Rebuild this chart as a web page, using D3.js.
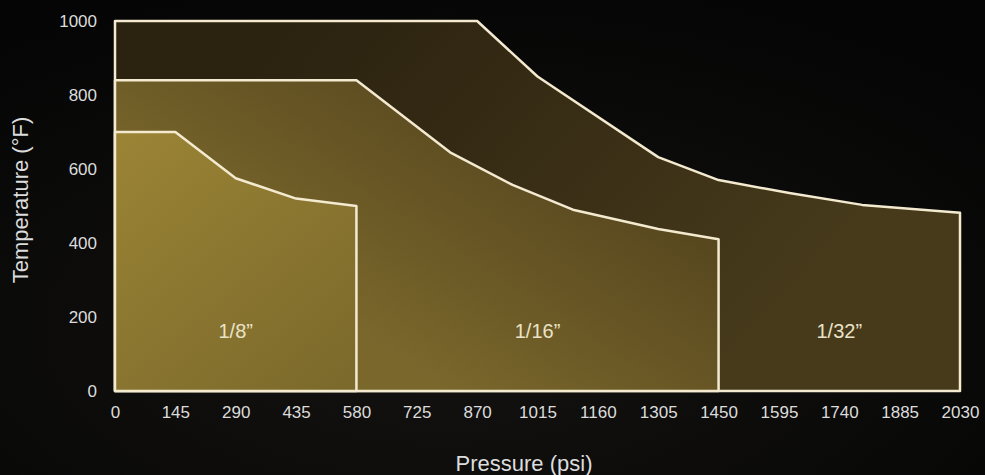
<!DOCTYPE html>
<html>
<head>
<meta charset="utf-8">
<script src="https://cdn.jsdelivr.net/npm/d3@7"></script>
<style>
  html, body { margin: 0; padding: 0; background: #060606; }
  svg { display: block; }
</style>
</head>
<body>
<script>
// pressure ticks (psi) and temperature ticks (°F)
const pressureTicks = [0, 145, 290, 435, 580, 725, 870, 1015, 1160, 1305, 1450, 1595, 1740, 1885, 2030]
const tempTicks = [0, 200, 400, 600, 800, 1000]

// envelope for each tube size: pressure vs max temperature
const eighthP = [0, 145, 290, 435, 580]
const eighthT = [700, 700, 575, 520, 500]

const sixteenthP = [0, 580, 805, 955, 1100, 1305, 1450]
const sixteenthT = [840, 840, 645, 557, 490, 438, 410]

const thirtysecondP = [0, 870, 1015, 1305, 1450, 1620, 1795, 2030]
const thirtysecondT = [1000, 1000, 850, 632, 570, 535, 503, 482]

const sizeLabels = ["1/32\u201d", "1/16\u201d", "1/8\u201d"]

const width = 985, height = 475
const font = 'Liberation Sans, Arial, sans-serif'
const svg = d3.select('body').append('svg')
  .attr('width', width)
  .attr('height', height)

const defs = svg.append('defs')

// background vignette
const bg = defs.append('radialGradient').attr('id', 'bg')
  .attr('cx', '45%').attr('cy', '70%').attr('r', '75%')
bg.append('stop').attr('offset', '0%').attr('stop-color', '#141311')
bg.append('stop').attr('offset', '100%').attr('stop-color', '#050505')
svg.append('rect').attr('width', width).attr('height', height).attr('fill', 'url(#bg)')

const x = d3.scaleLinear().domain([0, 2030]).range([115, 960])
const y = d3.scaleLinear().domain([0, 1000]).range([391, 21])

function grad(id, x1, y1, x2, y2, c1, c2) {
  const g = defs.append('linearGradient').attr('id', id)
    .attr('gradientUnits', 'userSpaceOnUse')
    .attr('x1', x1).attr('y1', y1).attr('x2', x2).attr('y2', y2)
  g.append('stop').attr('offset', '0%').attr('stop-color', c1)
  g.append('stop').attr('offset', '100%').attr('stop-color', c2)
}
grad('g32', 300, 21, 700, 391, '#2b2210', '#463a1b')
grad('g16', 650, 80, 450, 391, '#4a3b19', '#7a672c')
grad('g8', 115, 131, 330, 391, '#9b8435', '#7c6a2c')

const regions = [
  { p: thirtysecondP, t: thirtysecondT, fill: 'url(#g32)', label: sizeLabels[0] },
  { p: sixteenthP, t: sixteenthT, fill: 'url(#g16)', label: sizeLabels[1] },
  { p: eighthP, t: eighthT, fill: 'url(#g8)', label: sizeLabels[2] }
]

const line = d3.line().x(d => x(d[0])).y(d => y(d[1]))

regions.forEach(r => {
  const pts = [[0, 0]].concat(r.p.map((v, i) => [v, r.t[i]]))
  pts.push([r.p[r.p.length - 1], 0])
  svg.append('path')
    .attr('d', line(pts) + 'Z')
    .attr('fill', r.fill)
    .attr('stroke', '#f3ead0')
    .attr('stroke-width', 2.5)
    .attr('stroke-linejoin', 'round')
})

// size labels, centred in the part of each region that is not covered
const labelX = [(1450 + 2030) / 2, (580 + 1450) / 2, 580 / 2]
regions.forEach((r, i) => {
  svg.append('text')
    .attr('x', x(labelX[i]))
    .attr('y', y(143))
    .attr('text-anchor', 'middle')
    .attr('font-family', font)
    .attr('font-size', 20)
    .attr('fill', '#ebe3c8')
    .text(r.label)
})

const xAxis = svg.append('g')
  .attr('transform', 'translate(0,403)')
  .call(d3.axisBottom(x).tickValues(pressureTicks).tickSize(0).tickFormat(d3.format('d')))
xAxis.select('.domain').remove()
xAxis.selectAll('text')
  .attr('fill', '#dcdcdc')
  .attr('font-family', font)
  .attr('font-size', 17)

const yAxis = svg.append('g')
  .attr('transform', 'translate(97,0)')
  .call(d3.axisLeft(y).tickValues(tempTicks).tickSize(0).tickPadding(0).tickFormat(d3.format('d')))
yAxis.select('.domain').remove()
yAxis.selectAll('text')
  .attr('fill', '#dcdcdc')
  .attr('font-family', font)
  .attr('font-size', 17)

svg.append('text')
  .attr('x', 524).attr('y', 471)
  .attr('text-anchor', 'middle')
  .attr('font-family', font)
  .attr('font-size', 22)
  .attr('fill', '#dcdcdc')
  .text('Pressure (psi)')

svg.append('text')
  .attr('transform', 'translate(28,200) rotate(-90)')
  .attr('text-anchor', 'middle')
  .attr('font-family', font)
  .attr('font-size', 22)
  .attr('fill', '#dcdcdc')
  .text('Temperature (\u00b0F)')
</script>
</body>
</html>
